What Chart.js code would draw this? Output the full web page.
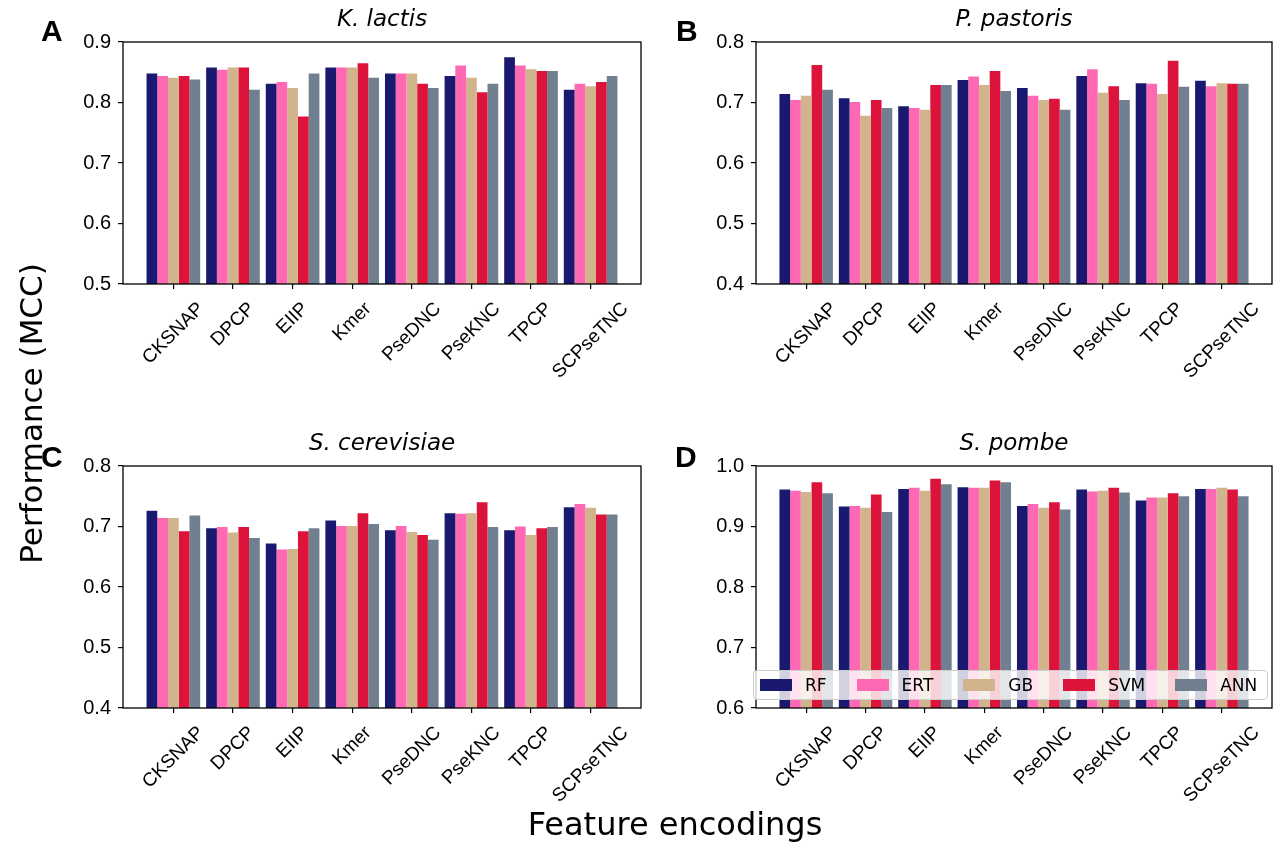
<!DOCTYPE html>
<html>
<head>
<meta charset="utf-8">
<script src="https://cdn.jsdelivr.net/npm/chart.js@4.4.0/dist/chart.umd.min.js"></script>
<style>
  body { margin: 0; background: #fff; }
  #wrap { position: relative; width: 1275px; height: 846px; overflow: hidden; }
  canvas { position: absolute; left: 0; top: 0; }
  .letter { position: absolute; font: bold 30px "Liberation Sans", Arial, sans-serif; line-height: 1; }
  .bigLabel { position: absolute; font-family: "DejaVu Sans", sans-serif; color: #000; white-space: nowrap; text-align: center; line-height: 1; }
  #legend { position: absolute; left: 753px; top: 670px; width: 515px; height: 30px; box-sizing: border-box;
            background: rgba(255,255,255,0.8); border: 1px solid #ccc; border-radius: 4px;
            display: flex; align-items: center; padding-left: 6px; }
  #legend .item { display: flex; align-items: center; margin-right: 30px;
                  font: 17px "DejaVu Sans", sans-serif; color: #000; }
  #legend .patch { width: 32px; height: 12px; margin-right: 13px; }
</style>
</head>
<body>
<div id="wrap">
  <canvas id="panelA" width="1275" height="846"></canvas>
  <canvas id="panelB" width="1275" height="846"></canvas>
  <canvas id="panelC" width="1275" height="846"></canvas>
  <canvas id="panelD" width="1275" height="846"></canvas>
  <div id="legend"></div>
  <div class="letter" style="left:41px;top:16px;">A</div>
  <div class="letter" style="left:676px;top:16px;">B</div>
  <div class="letter" style="left:41px;top:442px;">C</div>
  <div class="letter" style="left:675px;top:442px;">D</div>
  <div class="bigLabel" style="font-size:31px;width:400px;left:-169px;top:398px;transform:rotate(-90deg);">Performance (MCC)</div>
  <div class="bigLabel" style="font-size:32px;width:400px;left:475px;top:808px;">Feature encodings</div>
</div>
<script>

var encodings = ["CKSNAP", "DPCP", "EIIP", "Kmer", "PseDNC", "PseKNC", "TPCP", "SCPseTNC"];
var models = ["RF", "ERT", "GB", "SVM", "ANN"];
var modelColors = ["#191970", "#ff69b4", "#d2b48c", "#dc143c", "#708090"];

// K. lactis
var lactisRF  = [0.848, 0.858, 0.831, 0.858, 0.848, 0.844, 0.875, 0.821];
var lactisERT = [0.844, 0.854, 0.834, 0.858, 0.848, 0.861, 0.861, 0.831];
var lactisGB  = [0.841, 0.858, 0.824, 0.858, 0.848, 0.841, 0.855, 0.827];
var lactisSVM = [0.844, 0.858, 0.777, 0.865, 0.831, 0.817, 0.852, 0.834];
var lactisANN = [0.838, 0.821, 0.848, 0.841, 0.824, 0.831, 0.852, 0.844];

// P. pastoris
var pastorisRF  = [0.714, 0.707, 0.694, 0.737, 0.724, 0.744, 0.732, 0.736];
var pastorisERT = [0.704, 0.701, 0.691, 0.743, 0.711, 0.755, 0.731, 0.727];
var pastorisGB  = [0.711, 0.678, 0.688, 0.729, 0.704, 0.716, 0.714, 0.732];
var pastorisSVM = [0.762, 0.704, 0.729, 0.752, 0.706, 0.727, 0.769, 0.731];
var pastorisANN = [0.721, 0.691, 0.729, 0.719, 0.688, 0.704, 0.726, 0.731];

// S. cerevisiae
var cerevisiaeRF  = [0.726, 0.697, 0.672, 0.710, 0.694, 0.722, 0.694, 0.732];
var cerevisiaeERT = [0.714, 0.699, 0.662, 0.701, 0.701, 0.721, 0.700, 0.737];
var cerevisiaeGB  = [0.714, 0.690, 0.663, 0.701, 0.691, 0.722, 0.686, 0.731];
var cerevisiaeSVM = [0.692, 0.699, 0.692, 0.722, 0.686, 0.740, 0.697, 0.720];
var cerevisiaeANN = [0.718, 0.681, 0.697, 0.704, 0.678, 0.699, 0.699, 0.720];

// S. pombe
var pombeRF  = [0.961, 0.933, 0.962, 0.965, 0.934, 0.961, 0.943, 0.962];
var pombeERT = [0.959, 0.934, 0.964, 0.964, 0.937, 0.958, 0.948, 0.962];
var pombeGB  = [0.957, 0.931, 0.959, 0.964, 0.931, 0.959, 0.948, 0.964];
var pombeSVM = [0.973, 0.953, 0.979, 0.976, 0.940, 0.964, 0.955, 0.961];
var pombeANN = [0.955, 0.924, 0.970, 0.973, 0.928, 0.956, 0.950, 0.950];

var xTickFont = { family: "'Liberation Sans', Arial, sans-serif", size: 19 };
var yTickFont = { family: "'Liberation Sans', Arial, sans-serif", size: 20 };

// box around the plot area (matplotlib spines)
var framePlugin = {
  id: 'frame',
  afterDatasetsDraw: function(chart) {
    var a = chart.chartArea;
    var c = chart.ctx;
    c.save();
    c.strokeStyle = '#000';
    c.lineWidth = 1.3;
    c.strokeRect(a.left, a.top, a.right - a.left, a.bottom - a.top);
    c.restore();
  }
};

// rotated labels centred under their tick, like matplotlib rotation=45
var centerLabels = {
  id: 'centerLabels',
  beforeDraw: function(chart) {
    var scale = chart.scales.x;
    var items = scale.getLabelItems(chart.chartArea);
    var c = chart.ctx;
    c.save();
    items.forEach(function(it) {
      var i = encodings.indexOf(it.label);
      if (i < 0) return;
      c.font = it.font.string;
      var w = c.measureText(it.label).width;
      var x = scale.getPixelForValue(i);
      var y = scale.top + 15 + (w + xTickFont.size) * 0.354;
      it.options.translation = [x, y];
      it.options.textAlign = 'center';
      it.options.textBaseline = 'middle';
      it.textOffset = 0;
    });
    c.restore();
  }
};

function makePanel(id, title, series, yMin, yMax, area) {

  var datasets = [];
  for (var k = 0; k < models.length; k++) {
    datasets.push({
      label: models[k],
      data: series[k].map(function(v, i) { return { x: i, y: v }; }),
      backgroundColor: modelColors[k],
      borderWidth: 0,
      categoryPercentage: 0.9,
      barPercentage: 1.0
    });
  }

  var ctx = document.getElementById(id);
  new Chart(ctx, {
    type: 'bar',
    data: { datasets: datasets },
    options: {
      responsive: false,
      animation: false,
      events: [],
      layout: {
        padding: {
          left: area.left - 123,
          right: 1275 - area.right,
          top: area.top - 35.6,
          bottom: 846 - area.bottom - 100
        }
      },
      plugins: {
        legend: { display: false },
        tooltip: { enabled: false },
        title: {
          display: true,
          text: title,
          fullSize: false,
          color: '#000',
          font: { family: "'DejaVu Sans', sans-serif", size: 23, style: 'italic', weight: 'normal', lineHeight: 1.2 },
          padding: { top: 0, bottom: 8 }
        }
      },
      scales: {
        x: {
          type: 'linear',
          offset: false,
          min: -0.845,
          max: 7.845,
          border: { display: false },
          grid: { offset: false, drawOnChartArea: false, tickLength: 5, color: '#000', lineWidth: 1.2 },
          afterBuildTicks: function(axis) {
            axis.ticks = encodings.map(function(e, i) { return { value: i }; });
          },
          afterFit: function(axis) {
            axis.height = 100;
            axis.paddingLeft = 0;
            axis.paddingRight = 0;
          },
          ticks: {
            autoSkip: false,
            minRotation: 45,
            maxRotation: 45,
            color: '#000',
            font: xTickFont,
            callback: function(v) { return encodings[v]; }
          }
        },
        y: {
          min: yMin,
          max: yMax,
          border: { display: false },
          grid: { drawOnChartArea: false, tickLength: 5, color: '#000', lineWidth: 1.2 },
          afterFit: function(axis) {
            axis.width = 123;
            axis.paddingTop = 0;
            axis.paddingBottom = 0;
          },
          ticks: {
            stepSize: 0.1,
            padding: 7,
            color: '#000',
            font: yTickFont,
            callback: function(v) { return v.toFixed(1); }
          }
        }
      }
    },
    plugins: [framePlugin, centerLabels]
  });
}

function buildLegend() {
  var box = document.getElementById('legend');
  models.forEach(function(m, k) {
    var item = document.createElement('div');
    item.className = 'item';
    var patch = document.createElement('span');
    patch.className = 'patch';
    patch.style.background = modelColors[k];
    item.appendChild(patch);
    item.appendChild(document.createTextNode(m));
    box.appendChild(item);
  });
}

makePanel('panelA', 'K. lactis',
  [lactisRF, lactisERT, lactisGB, lactisSVM, lactisANN], 0.5, 0.9,
  { left: 123, top: 42, right: 641, bottom: 284 });
makePanel('panelB', 'P. pastoris',
  [pastorisRF, pastorisERT, pastorisGB, pastorisSVM, pastorisANN], 0.4, 0.8,
  { left: 756, top: 42, right: 1272, bottom: 284 });
makePanel('panelC', 'S. cerevisiae',
  [cerevisiaeRF, cerevisiaeERT, cerevisiaeGB, cerevisiaeSVM, cerevisiaeANN], 0.4, 0.8,
  { left: 123, top: 466, right: 641, bottom: 708 });
makePanel('panelD', 'S. pombe',
  [pombeRF, pombeERT, pombeGB, pombeSVM, pombeANN], 0.6, 1.0,
  { left: 756, top: 466, right: 1272, bottom: 708 });
buildLegend();

</script>
</body>
</html>
